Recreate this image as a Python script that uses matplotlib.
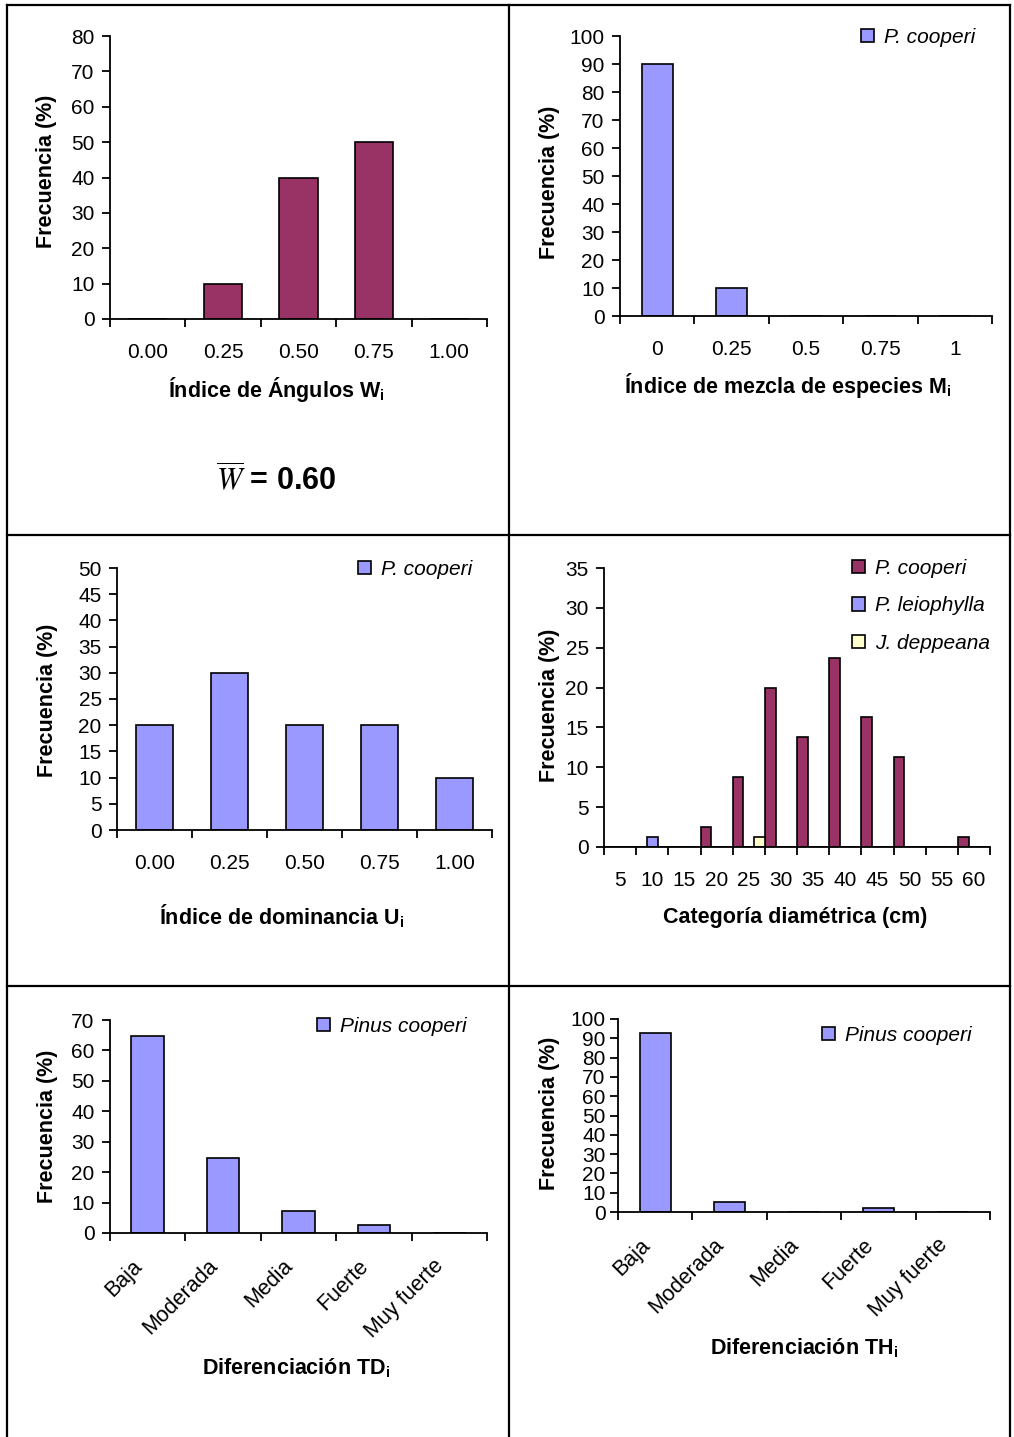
import numpy as np
import matplotlib.pyplot as plt
import matplotlib.transforms as mtransforms
from matplotlib.lines import Line2D

plt.rcParams['font.family'] = ['Liberation Sans', 'DejaVu Sans']
plt.rcParams['mathtext.default'] = 'regular'

# ---- data ----
w_cats = ['0.00', '0.25', '0.50', '0.75', '1.00']
w_vals = [0, 10, 40, 50, 0]

m_cats = ['0', '0.25', '0.5', '0.75', '1']
m_vals = [90, 10, 0, 0, 0]

u_cats = ['0.00', '0.25', '0.50', '0.75', '1.00']
u_vals = [20, 30, 20, 20, 10]

d_cats = ['5', '10', '15', '20', '25', '30', '35', '40', '45', '50', '55', '60']
d_cooperi = [0, 0, 0, 2.5, 8.75, 20, 13.75, 23.75, 16.25, 11.25, 0, 1.25]
d_leiophylla = [0, 1.25, 0, 0, 0, 0, 0, 0, 0, 0, 0, 0]
d_deppeana = [0, 0, 0, 0, 1.25, 0, 0, 0, 0, 0, 0, 0]

diff_cats = ['Baja', 'Moderada', 'Media', 'Fuerte', 'Muy fuerte']
td_vals = [64.9, 24.8, 7.2, 2.6, 0]
th_vals = [92.5, 5.3, 0, 2.3, 0]

W_mean = 0.60

PURPLE = '#993366'
LAV = '#9999FF'
YEL = '#FFFFCC'
LABEL_FS = 15.5

W, H = 1014, 1437
fig = plt.figure(figsize=(W / 100, H / 100), dpi=100)


def add_ax(l, t, r, b):
    return fig.add_axes([l / W, 1 - b / H, (r - l) / W, (b - t) / H])


def ftext(x, y, s, **kw):
    fig.text(x / W, 1 - y / H, s, **kw)


def ylabel(x, y):
    ftext(x, y, 'Frecuencia (%)', rotation=90, ha='center', va='center',
          fontsize=LABEL_FS, fontweight='bold')


def xlabel(x, y, s):
    ftext(x, y, s, ha='center', va='center', fontsize=LABEL_FS, fontweight='bold')


def style(ax, cats, ymax, ystep, rot=False):
    n = len(cats)
    ax.set_xlim(-0.5, n - 0.5)
    ax.set_ylim(0, ymax)
    for s in ['top', 'right']:
        ax.spines[s].set_visible(False)
    for s in ['left', 'bottom']:
        ax.spines[s].set_linewidth(1.3)
    ax.set_xticks(np.arange(n + 1) - 0.5)
    ax.set_xticklabels([])
    if rot:
        # rotated category labels, placed by hand like Excel does
        off = mtransforms.offset_copy(ax.get_xaxis_transform(), fig=fig,
                                      x=-11.5, y=-16.3, units='points')
        for i, c in enumerate(cats):
            ax.text(i, 0, c, transform=off, rotation=45, ha='right', va='top',
                    rotation_mode='anchor', fontsize=15.5)
    else:
        ax.set_xticks(np.arange(n), minor=True)
        ax.set_xticklabels(cats, minor=True, fontsize=15)
        ax.tick_params(axis='x', which='minor', length=0, pad=17)
    ax.tick_params(axis='x', which='major', length=6, width=1.3, direction='out')
    ax.set_yticks(np.arange(0, ymax + 0.1, ystep))
    ax.tick_params(axis='y', length=6, width=1.3, direction='out', labelsize=15, pad=5)


def legend(ax, x, y, spacing=0.8):
    ax.legend(loc='upper left', bbox_to_anchor=(x / W, 1 - y / H),
              bbox_transform=fig.transFigure, frameon=False,
              prop={'style': 'italic', 'size': 15}, handlelength=0.6,
              handleheight=0.6, handletextpad=0.5, borderpad=0,
              borderaxespad=0, labelspacing=spacing)


# ---- panel 1: Indice de angulos ----
ax1 = add_ax(110, 36, 487, 319)
ax1.bar(range(len(w_vals)), w_vals, width=0.51, color=PURPLE, edgecolor='black', linewidth=1.2)
style(ax1, w_cats, 80, 10)
ylabel(47, 171)
xlabel(276, 390, 'Índice de Ángulos W$\\mathregular{_i}$')
ftext(276, 480, '$\\overline{\\mathit{W}}$ = %.2f' % W_mean, ha='center', va='center', fontsize=22,
      fontweight='bold', math_fontfamily='stix')

# ---- panel 2: mezcla de especies ----
ax2 = add_ax(620, 36, 992, 316)
ax2.bar(range(len(m_vals)), m_vals, width=0.42, color=LAV, edgecolor='black', linewidth=1.2,
        label='P. cooperi')
style(ax2, m_cats, 100, 10)
legend(ax2, 861, 28)
ylabel(550, 182)
xlabel(788, 386, 'Índice de mezcla de especies M$\\mathregular{_i}$')

# ---- panel 3: dominancia ----
ax3 = add_ax(117, 568, 492, 830)
ax3.bar(range(len(u_vals)), u_vals, width=0.5, color=LAV, edgecolor='black', linewidth=1.2,
        label='P. cooperi')
style(ax3, u_cats, 50, 5)
legend(ax3, 358, 560)
ylabel(48, 700)
xlabel(282, 916, 'Índice de dominancia U$\\mathregular{_i}$')

# ---- panel 4: categoria diametrica ----
ax4 = add_ax(604, 568, 990, 847)
x = np.arange(len(d_cats))
bw = 1 / 3
ax4.bar(x - bw, d_cooperi, width=bw, color=PURPLE, edgecolor='black', linewidth=1.2, label='P. cooperi')
ax4.bar(x, d_leiophylla, width=bw, color=LAV, edgecolor='black', linewidth=1.2, label='P. leiophylla')
ax4.bar(x + bw, d_deppeana, width=bw, color=YEL, edgecolor='black', linewidth=1.2, label='J. deppeana')
style(ax4, d_cats, 35, 5)
legend(ax4, 852, 559, spacing=0.88)
ylabel(550, 705)
xlabel(795, 918, 'Categoría diamétrica (cm)')

# ---- panel 5: diferenciacion TD ----
ax5 = add_ax(110, 1020, 487, 1233)
ax5.bar(range(len(td_vals)), td_vals, width=0.43, color=LAV, edgecolor='black', linewidth=1.2,
        label='Pinus cooperi')
style(ax5, diff_cats, 70, 10, rot=True)
legend(ax5, 317, 1017)
ylabel(48, 1126)
xlabel(296, 1368, 'Diferenciación TD$\\mathregular{_i}$')

# ---- panel 6: diferenciacion TH ----
ax6 = add_ax(618, 1019, 990, 1212)
ax6.bar(range(len(th_vals)), th_vals, width=0.42, color=LAV, edgecolor='black', linewidth=1.2,
        label='Pinus cooperi')
style(ax6, diff_cats, 100, 10, rot=True)
ax6.tick_params(axis='y', pad=3)
legend(ax6, 822, 1026)
ylabel(550, 1113)
xlabel(804, 1348, 'Diferenciación TH$\\mathregular{_i}$')

# ---- table borders ----
lw = 1.6
for (x0, y0, x1, y1) in [(7, 5, 1010, 5), (7, 5, 7, 1437), (1010, 5, 1010, 1437),
                         (509, 5, 509, 1437), (7, 535, 1010, 535), (7, 986, 1010, 986)]:
    fig.add_artist(Line2D([x0 / W, x1 / W], [1 - y0 / H, 1 - y1 / H], color='black', lw=lw))

fig.savefig('out.png', dpi=100)
